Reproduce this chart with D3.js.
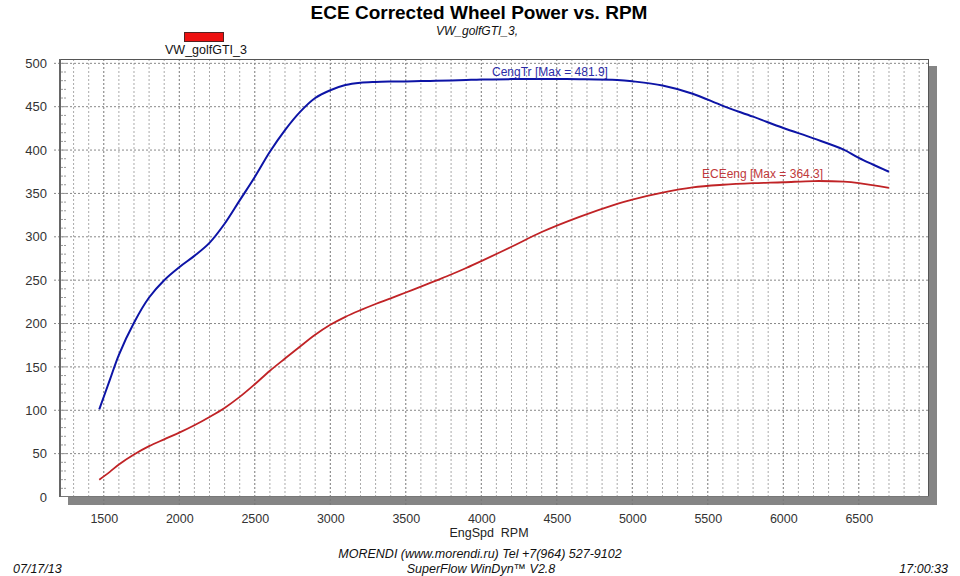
<!DOCTYPE html>
<html lang="en">
    <head>
        <meta charset="utf-8">
        <title>ECE Corrected Wheel Power vs. RPM</title>
        <script type="text/javascript" src="https://d3js.org/d3.v7.min.js"></script>
        <style type="text/css">
            body { margin: 0; background: #fff; }
            text { font-family: "Liberation Sans", Arial, sans-serif; }
        </style>
    </head>
    <body>
        <script type="text/javascript">
            //Width and height
            var w = 960;
            var h = 576;

            //Data
            var rpm = [1470, 1540, 1600, 1700, 1800, 1900, 2000, 2100, 2200, 2300, 2400, 2500, 2600, 2700, 2800, 2900, 3000, 3100, 3200, 3300, 3400, 3500, 3600, 3700, 3800, 3900, 4000, 4200, 4400, 4650, 4900, 5000, 5200, 5400, 5600, 5800, 6000, 6200, 6400, 6500, 6700];
            var cengTr = [101, 135, 164, 201, 230, 250, 265, 278, 293, 315, 342, 369, 398, 423, 444, 460, 469, 475, 477.7, 478.6, 479, 479.2, 479.5, 479.8, 480.2, 480.8, 481.4, 481.8, 481.9, 481.7, 480.8, 479.3, 474.5, 465, 451, 438.5, 425.5, 413.5, 400.5, 391, 375];
            var eceEng = [20, 29, 37.5, 49, 58.6, 66.5, 74.2, 82.7, 92.3, 102.7, 115.4, 130, 145.5, 159.6, 173.5, 187, 198.5, 207.7, 215.4, 222.5, 229, 235.8, 242.5, 249.5, 256.5, 264, 272, 288.5, 305.5, 323, 338, 343, 351, 357, 360, 361.8, 362.9, 364.3, 363.6, 362, 356.5];
            var xTicks = [1500, 2000, 2500, 3000, 3500, 4000, 4500, 5000, 5500, 6000, 6500];
            var yTicks = [0, 50, 100, 150, 200, 250, 300, 350, 400, 450, 500];

            var pLeft = 60, pRight = 929, pTop = 59, pBottom = 497;

            var x = d3.scaleLinear().domain([1210, 6965]).range([pLeft, pRight]);
            var y = d3.scaleLinear().domain([0, 505]).range([pBottom, pTop]);

            var svg = d3.select("body")
                        .append("svg")
                        .attr("width", w)
                        .attr("height", h);

            //drop shadow
            svg.append("rect").attr("x", pRight).attr("y", pTop + 7).attr("width", 8).attr("height", pBottom - pTop + 1).attr("fill", "#858585");
            svg.append("rect").attr("x", pLeft + 8).attr("y", pBottom).attr("width", pRight - pLeft).attr("height", 8).attr("fill", "#858585");
            svg.append("rect").attr("x", pLeft).attr("y", pTop).attr("width", pRight - pLeft).attr("height", pBottom - pTop).attr("fill", "#fff");

            //vertical grid every 100 rpm
            var minorX = d3.range(1300, 6965, 100);
            svg.selectAll("line.vgrid")
               .data(minorX)
               .enter()
               .append("line")
               .attr("class", "vgrid")
               .attr("x1", function(d) { return x(d); })
               .attr("x2", function(d) { return x(d); })
               .attr("y1", pTop)
               .attr("y2", function(d) { return d % 500 == 0 ? pBottom + 10 : pBottom; })
               .attr("stroke", function(d) { return d % 500 == 0 ? "#777" : "#aaa"; })
               .attr("stroke-width", 1)
               .attr("stroke-dasharray", "2,2");

            //horizontal grid
            svg.selectAll("line.hgrid")
               .data(yTicks.slice(1))
               .enter()
               .append("line")
               .attr("class", "hgrid")
               .attr("x1", pLeft - 6)
               .attr("x2", pRight)
               .attr("y1", function(d) { return y(d); })
               .attr("y2", function(d) { return y(d); })
               .attr("stroke", "#888")
               .attr("stroke-width", 1)
               .attr("stroke-dasharray", "2,2");

            //minor y ticks inside
            svg.selectAll("line.ymin")
               .data(d3.range(10, 505, 10))
               .enter()
               .append("line")
               .attr("class", "ymin")
               .attr("x1", pLeft + 1)
               .attr("x2", pLeft + 7)
               .attr("y1", function(d) { return y(d); })
               .attr("y2", function(d) { return y(d); })
               .attr("stroke", "#999")
               .attr("stroke-dasharray", "2,1");

            //frame
            svg.append("line").attr("x1", pLeft).attr("x2", pRight).attr("y1", pTop + 0.5).attr("y2", pTop + 0.5).attr("stroke", "#555");
            svg.append("line").attr("x1", pRight - 0.5).attr("x2", pRight - 0.5).attr("y1", pTop).attr("y2", pBottom).attr("stroke", "#555");
            svg.append("line").attr("x1", pLeft).attr("x2", pRight).attr("y1", pBottom - 0.5).attr("y2", pBottom - 0.5).attr("stroke", "#777");
            svg.append("line").attr("x1", pLeft).attr("x2", pLeft).attr("y1", pTop).attr("y2", pBottom).attr("stroke", "#666").attr("stroke-width", 2);

            //axes (labels only, lines drawn above)
            var yAxis = d3.axisLeft(y).tickValues(yTicks).tickSize(0).tickPadding(13).tickFormat(d3.format("d"));
            var gy = svg.append("g").attr("transform", "translate(" + pLeft + ",0)").call(yAxis);
            gy.select(".domain").remove();
            gy.selectAll("text").attr("font-size", "13px").attr("fill", "#333").attr("font-family", "Liberation Sans, Arial, sans-serif");

            var xAxis = d3.axisBottom(x).tickValues(xTicks).tickSize(0).tickPadding(17).tickFormat(d3.format("d"));
            var gx = svg.append("g").attr("transform", "translate(0," + pBottom + ")").call(xAxis);
            gx.select(".domain").remove();
            gx.selectAll("text").attr("font-size", "12.5px").attr("fill", "#333").attr("font-family", "Liberation Sans, Arial, sans-serif");

            //curves
            var rpmLine = d3.line()
                .x(function(d, i) { return x(rpm[i]); })
                .y(function(d) { return y(d); })
                .curve(d3.curveCatmullRom.alpha(0.5));

            svg.append("path")
               .datum(eceEng)
               .attr("d", rpmLine)
               .attr("fill", "none")
               .attr("stroke", "#c02326")
               .attr("stroke-width", 1.8);

            svg.append("path")
               .datum(cengTr)
               .attr("d", rpmLine)
               .attr("fill", "none")
               .attr("stroke", "#0d14a6")
               .attr("stroke-width", 2);

            //curve labels
            svg.append("text")
               .text("CengTr [Max = " + d3.max(cengTr) + "]")
               .attr("x", 492)
               .attr("y", y(d3.max(cengTr)) - 3)
               .attr("font-size", "12px")
               .attr("fill", "#2b2ba6");

            svg.append("text")
               .text("ECEeng [Max = " + d3.max(eceEng) + "]")
               .attr("x", 702)
               .attr("y", y(d3.max(eceEng)) - 3)
               .attr("font-size", "12px")
               .attr("fill", "#c0393b");

            //titles
            svg.append("text").text("ECE Corrected Wheel Power vs. RPM")
               .attr("x", 479).attr("y", 19).attr("text-anchor", "middle")
               .attr("font-size", "19px").attr("font-weight", "bold").attr("fill", "#000");
            svg.append("text").text("VW_golfGTI_3,")
               .attr("x", 477).attr("y", 35).attr("text-anchor", "middle")
               .attr("font-size", "12px").attr("font-style", "italic").attr("fill", "#111");

            //legend
            svg.append("rect").attr("x", 184.5).attr("y", 32.5).attr("width", 39).attr("height", 9)
               .attr("fill", "#ee1111").attr("stroke", "#552222").attr("stroke-width", 1);
            svg.append("text").text("VW_golfGTI_3")
               .attr("x", 206).attr("y", 54).attr("text-anchor", "middle")
               .attr("font-size", "12.5px").attr("fill", "#111");

            //x axis title
            svg.append("text").text("EngSpd  RPM")
               .attr("x", 489).attr("y", 537).attr("text-anchor", "middle")
               .attr("font-size", "12.5px").attr("fill", "#222").style("white-space", "pre");

            //footer
            svg.append("text").text("MORENDI (www.morendi.ru) Tel +7(964) 527-9102")
               .attr("x", 480).attr("y", 558).attr("text-anchor", "middle")
               .attr("font-size", "12.5px").attr("font-style", "italic").attr("fill", "#111");
            svg.append("text").text("SuperFlow WinDyn\u2122 V2.8")
               .attr("x", 481).attr("y", 573).attr("text-anchor", "middle")
               .attr("font-size", "12.5px").attr("font-style", "italic").attr("fill", "#111");
            svg.append("text").text("07/17/13")
               .attr("x", 13).attr("y", 573)
               .attr("font-size", "12.5px").attr("font-style", "italic").attr("fill", "#111");
            svg.append("text").text("17:00:33")
               .attr("x", 948).attr("y", 573).attr("text-anchor", "end")
               .attr("font-size", "12.5px").attr("font-style", "italic").attr("fill", "#111");

        </script>
    </body>
</html>
